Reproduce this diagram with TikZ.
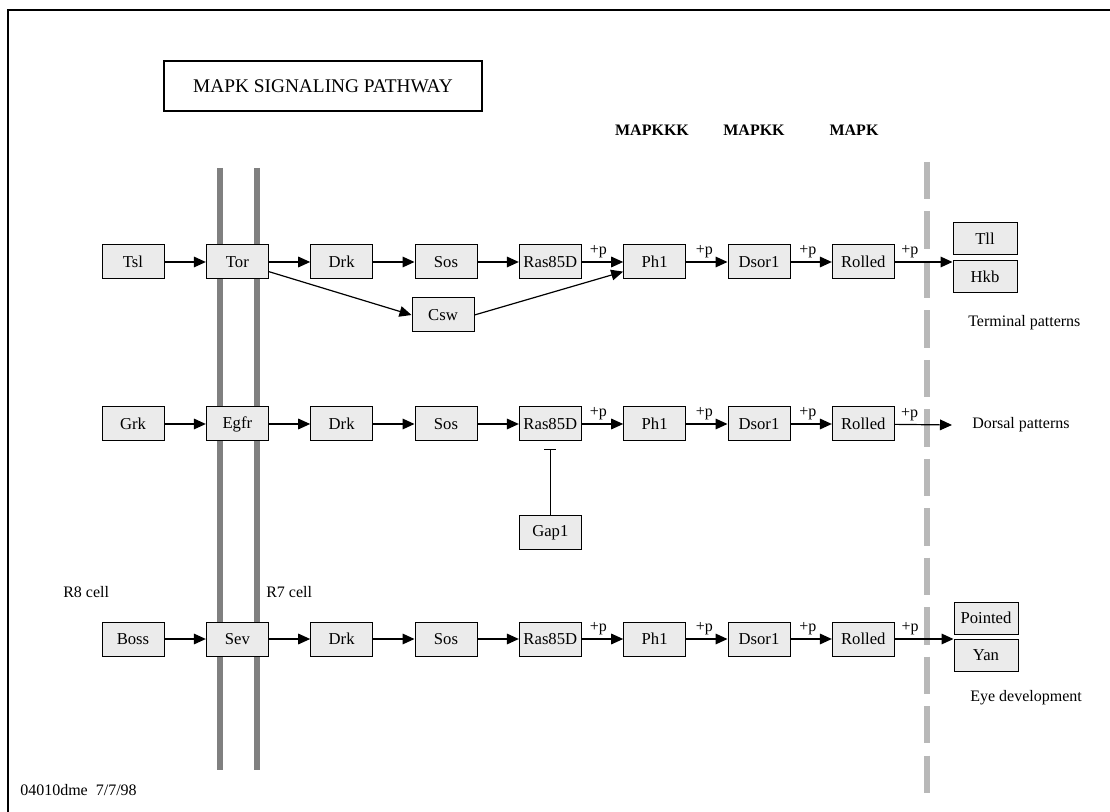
\documentclass[tikz,border=0pt]{standalone}
\usepackage{fontspec}
\setmainfont{Liberation Serif}
\usetikzlibrary{arrows.meta,positioning}

\begin{document}
\begin{tikzpicture}[
    x=0.75pt, y=-0.75pt,
    >={Triangle[length=9pt,width=8pt]},
    node distance=31pt,
    gene/.style={draw, fill=black!8, line width=0.75pt,
                 minimum width=46.5pt, minimum height=25.5pt, inner sep=0pt,
                 font=\fontsize{12.5}{14}\selectfont},
    target/.style={gene, minimum width=48pt, minimum height=24pt},
    act/.style={->, line width=0.9pt},
    phos/.style={above, inner sep=2.5pt, font=\fontsize{12}{13}\selectfont},
    lbl/.style={anchor=west, inner sep=0pt, font=\fontsize{12}{14}\selectfont},
    level/.style={font=\fontsize{12}{14}\selectfont\bfseries},
    membrane/.style={draw=black!50, line width=4.5pt},
    nucleus/.style={draw=black!28, line width=5pt, dash pattern=on 28pt off 9.1pt},
  ]
  \useasboundingbox (0,0) rectangle (1110,812);
  \draw[line width=1.5pt] (8,812) -- (8,10) -- (1110,10);

  % Title and kinase levels
  \node[draw, line width=1.5pt, minimum width=238.5pt, minimum height=37.5pt,
        font=\fontsize{14.5}{16}\selectfont] (title) at (323,86) {MAPK SIGNALING PATHWAY};
  \node[level] (mapkkk) at (652,130) {MAPKKK};
  \node[level] (mapkk)  at (754,130) {MAPKK};
  \node[level] (mapk)   at (854,130) {MAPK};

  % Cell membranes and nucleus
  \draw[membrane] (220,168) -- (220,770);
  \draw[membrane] (257,168) -- (257,770);
  \draw[nucleus]  (927,162) -- (927,793);
  \node[lbl] (r8) at (63,592)  {R8 cell};
  \node[lbl] (r7) at (266,592) {R7 cell};

  % Terminal patterns
  \node[gene] (tsl) at (133,262) {Tsl};
  \node[gene, right=of tsl]   (tor)     {Tor};
  \node[gene, right=of tor]   (drkT)    {Drk};
  \node[gene, right=of drkT]  (sosT)    {Sos};
  \node[gene, right=of sosT]  (rasT)    {Ras85D};
  \node[gene, right=of rasT]  (phlT)    {Ph1};
  \node[gene, right=of phlT]  (dsorT)   {Dsor1};
  \node[gene, right=of dsorT] (rolledT) {Rolled};
  \node[gene] (csw) at (443,315) {Csw};
  \node[target] (tll) at (985,239) {Tll};
  \node[target] (hkb) at (985,277) {Hkb};
  \node[lbl] (terminal) at (968,323) {Terminal patterns};
  \draw[act] (tsl) -- (tor);
  \draw[act] (tor) -- (drkT);
  \draw[act] (drkT) -- (sosT);
  \draw[act] (sosT) -- (rasT);
  \draw[act] (rasT) -- node[phos, pos=.4] {+p} (phlT);
  \draw[act] (phlT) -- node[phos, pos=.44] {+p} (dsorT);
  \draw[act] (dsorT) -- node[phos, pos=.42] {+p} (rolledT);
  \draw[act] (rolledT) -- node[phos, pos=.26] {+p} (rolledT -| hkb.west);
  \draw[act] (tor.-17) -- (csw.west);
  \draw[act] (csw.east) -- (phlT.197);

  % Dorsal patterns
  \node[gene] (grk) at (133,424) {Grk};
  \node[gene, right=of grk]   (egfr)    {Egfr};
  \node[gene, right=of egfr]  (drkD)    {Drk};
  \node[gene, right=of drkD]  (sosD)    {Sos};
  \node[gene, right=of sosD]  (rasD)    {Ras85D};
  \node[gene, right=of rasD]  (phlD)    {Ph1};
  \node[gene, right=of phlD]  (dsorD)   {Dsor1};
  \node[gene, right=of dsorD] (rolledD) {Rolled};
  \node[gene, below=55pt of rasD] (gap) {Gap1};
  \node[lbl] (dorsal) at (972,425) {Dorsal patterns};
  \draw[act] (grk) -- (egfr);
  \draw[act] (egfr) -- (drkD);
  \draw[act] (drkD) -- (sosD);
  \draw[act] (sosD) -- (rasD);
  \draw[act] (rasD) -- node[phos, pos=.4] {+p} (phlD);
  \draw[act] (phlD) -- node[phos, pos=.44] {+p} (dsorD);
  \draw[act] (dsorD) -- node[phos, pos=.42] {+p} (rolledD);
  \draw[act] (rolledD) -- node[phos, pos=.26] {+p} ([xshift=-15pt]dorsal.west);
  \draw[-{Bar[width=9pt]}, line width=0.75pt, shorten >=6pt] (gap) -- (rasD);

  % Eye development
  \node[gene] (boss) at (133,639) {Boss};
  \node[gene, right=of boss]  (sev)     {Sev};
  \node[gene, right=of sev]   (drkE)    {Drk};
  \node[gene, right=of drkE]  (sosE)    {Sos};
  \node[gene, right=of sosE]  (rasE)    {Ras85D};
  \node[gene, right=of rasE]  (phlE)    {Ph1};
  \node[gene, right=of phlE]  (dsorE)   {Dsor1};
  \node[gene, right=of dsorE] (rolledE) {Rolled};
  \node[target] (pointed) at (986,618)   {Pointed};
  \node[target] (yan)     at (986,655.5) {Yan};
  \node[lbl] (eye) at (970,698) {Eye development};
  \draw[act] (boss) -- (sev);
  \draw[act] (sev) -- (drkE);
  \draw[act] (drkE) -- (sosE);
  \draw[act] (sosE) -- (rasE);
  \draw[act] (rasE) -- node[phos, pos=.4] {+p} (phlE);
  \draw[act] (phlE) -- node[phos, pos=.44] {+p} (dsorE);
  \draw[act] (dsorE) -- node[phos, pos=.42] {+p} (rolledE);
  \draw[act] (rolledE) -- node[phos, pos=.26] {+p} (rolledE -| yan.west);

  \node[lbl] (stamp) at (20,790) {04010dme~~7/7/98};
\end{tikzpicture}
\end{document}
